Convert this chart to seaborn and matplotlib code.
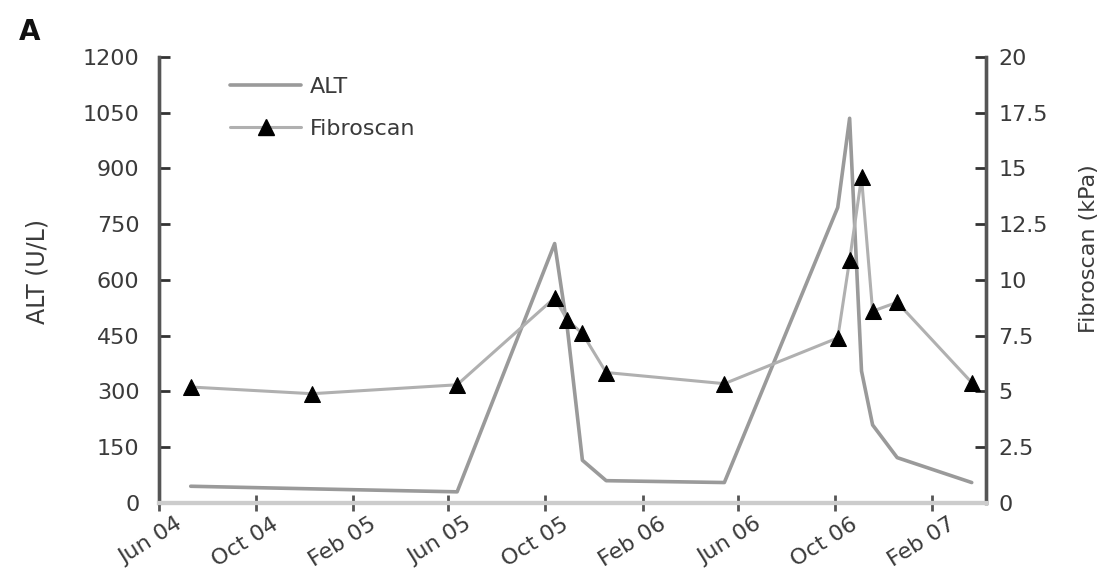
import matplotlib
matplotlib.use("Agg")
import matplotlib.pyplot as plt
import matplotlib.dates as mdates
import matplotlib.transforms as mtransforms
from matplotlib.lines import Line2D
import numpy as np
import pandas as pd
import seaborn as sns

# Visit dates with paired ALT and Fibroscan (liver stiffness) measurements
visit_dates = ["2004-07-11", "2004-12-11", "2005-06-12", "2005-10-13", "2005-10-29",
               "2005-11-17", "2005-12-17", "2006-05-15", "2006-10-05", "2006-10-20",
               "2006-11-04", "2006-11-18", "2006-12-19", "2007-03-23"]
alt_values = [45, 38, 30, 698, 470, 115, 60, 55, 795, 1035, 355, 210, 122, 55]
fibroscan_values = [5.2, 4.9, 5.3, 9.2, 8.2, 7.6, 5.85, 5.35, 7.4, 10.9, 14.6, 8.6, 9.0, 5.4]

alt_ticks = [0, 150, 300, 450, 600, 750, 900, 1050, 1200]
fib_ticks = [0, 2.5, 5, 7.5, 10, 12.5, 15, 17.5, 20]
fib_tick_labels = ["0", "2.5", "5", "7.5", "10", "12.5", "15", "17.5", "20"]
date_ticks = ["2004-06-01", "2004-10-01", "2005-02-01", "2005-06-01", "2005-10-01",
              "2006-02-01", "2006-06-01", "2006-10-01", "2007-02-01"]

sns.set_theme(style="white")
plt.rcParams["font.family"] = ["DejaVu Sans"]

df = pd.DataFrame({
    "date": pd.to_datetime(visit_dates),
    "ALT": alt_values,
    "Fibroscan": fibroscan_values,
})

fig = plt.figure(figsize=(11.15, 5.79), dpi=100)
ax = fig.add_axes([0.1426, 0.1313, 0.7417, 0.7703])
ax2 = ax.twinx()

alt_color = "#9a9a9a"
fib_line_color = "#b0b0b0"
text_color = "#3a3a3a"
fs = 16

sns.lineplot(data=df, x="date", y="ALT", ax=ax, color=alt_color, linewidth=2.6,
             legend=False, zorder=2)
sns.lineplot(data=df, x="date", y="Fibroscan", ax=ax2, color=fib_line_color,
             linewidth=2.2, marker="^", markersize=11, markerfacecolor="black",
             markeredgecolor="black", legend=False, zorder=3)

ax.set_xlim(pd.Timestamp("2004-06-01"), pd.Timestamp("2007-04-10"))
ax.set_ylim(0, 1200)
ax2.set_ylim(0, 20)

ax.set_yticks(alt_ticks)
ax.set_yticklabels([str(v) for v in alt_ticks])
ax2.set_yticks(fib_ticks)
ax2.set_yticklabels(fib_tick_labels)
ax.set_xticks(pd.to_datetime(date_ticks))
ax.xaxis.set_major_formatter(mdates.DateFormatter("%b %y"))

for a in (ax, ax2):
    a.spines["top"].set_visible(False)
    a.grid(False)
    a.set_facecolor("none")
    a.spines["left"].set_color("#555555")
    a.spines["left"].set_linewidth(2.4)
    a.spines["right"].set_color("#555555")
    a.spines["right"].set_linewidth(2.4)
    a.spines["bottom"].set_color("#cccccc")
    a.spines["bottom"].set_linewidth(3)

ax.tick_params(axis="y", direction="in", length=8, width=2, color="#333333",
               labelsize=fs, labelcolor=text_color, pad=14, left=True)
ax2.tick_params(axis="y", direction="in", length=8, width=2, color="#333333",
                labelsize=fs, labelcolor=text_color, pad=9, right=True)
ax.tick_params(axis="x", direction="inout", length=12, width=2, color="#555555",
               labelsize=fs, labelcolor=text_color, pad=2, bottom=True)

# rotated date labels, nudged so each label sits just past its tick
shift = mtransforms.ScaledTranslation(16 / 100, 0, fig.dpi_scale_trans)
for lbl in ax.get_xticklabels():
    lbl.set_rotation(32)
    lbl.set_ha("right")
    lbl.set_rotation_mode("anchor")
    lbl.set_transform(lbl.get_transform() + shift)

ax.set_xlabel("")
ax.set_ylabel("ALT (U/L)", fontsize=17, color=text_color)
ax2.set_ylabel("Fibroscan (kPa)", fontsize=16, color=text_color)
ax.yaxis.set_label_coords(-0.133, 0.52)
ax2.yaxis.set_label_coords(1.112, 0.57)

handles = [
    Line2D([], [], color=alt_color, linewidth=2.6),
    Line2D([], [], color=fib_line_color, linewidth=2.2, marker="^", markersize=11,
           markerfacecolor="black", markeredgecolor="black"),
]
leg = ax.legend(handles, ["ALT", "Fibroscan"], loc="upper left",
                bbox_to_anchor=(0.062, 1.0), frameon=False, fontsize=fs,
                handlelength=3.2, handletextpad=0.4, labelspacing=1.0)
for t in leg.get_texts():
    t.set_color(text_color)

fig.text(0.027, 0.945, "A", fontsize=20, fontweight="bold", color="#111111",
         ha="center", va="center")

fig.savefig("out.png", dpi=100, facecolor="white")
